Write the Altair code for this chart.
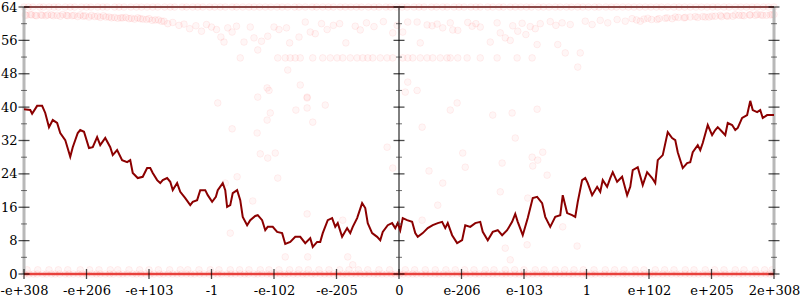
import json
import altair as alt
import pandas as pd

# ---------------- data ----------------
tick_labels = ["-e+308", "-e+206", "-e+103", "-1", "-e-102", "-e-205", "0",
               "e-206", "e-103", "1", "e+102", "e+205", "2e+308"]
tick_index = list(range(13))
y_major = [0, 8, 16, 24, 32, 40, 48, 56, 64]
y_minor = [4, 12, 20, 28, 36, 44, 52, 60]
axis_x_positions = [0, 6, 12]

line_x = [0.00, 0.10, 0.13, 0.21, 0.29, 0.34, 0.40, 0.46, 0.53, 0.58, 0.66, 0.74, 0.78, 0.86, 0.90, 0.96,
          1.04, 1.10, 1.17, 1.22, 1.30, 1.38, 1.42, 1.49, 1.57, 1.65, 1.70, 1.74, 1.82, 1.90, 1.97,
          2.02, 2.06, 2.13, 2.18, 2.22, 2.29, 2.34, 2.38, 2.45, 2.50, 2.58, 2.66, 2.70, 2.77, 2.82,
          2.90, 2.94, 3.01, 3.07, 3.10, 3.18, 3.22, 3.25, 3.30, 3.34, 3.41, 3.46, 3.50, 3.57, 3.62,
          3.70, 3.74, 3.81, 3.86, 3.90, 3.98, 4.05, 4.13, 4.18, 4.26, 4.34, 4.42, 4.50, 4.58, 4.62,
          4.69, 4.74, 4.78, 4.86, 4.93, 4.98, 5.02, 5.09, 5.17, 5.22, 5.26, 5.33, 5.41, 5.46, 5.50,
          5.57, 5.65, 5.70, 5.74, 5.82, 5.89, 5.94, 5.98, 6.02, 6.06, 6.13, 6.21, 6.26, 6.30, 6.38,
          6.46, 6.54, 6.62, 6.69, 6.74, 6.78, 6.85, 6.93, 7.01, 7.06, 7.14, 7.22, 7.30, 7.34, 7.42,
          7.50, 7.58, 7.65, 7.73, 7.81, 7.86, 7.90, 7.98, 8.06, 8.14, 8.21, 8.29, 8.34, 8.42, 8.50,
          8.58, 8.62, 8.69, 8.77, 8.82, 8.86, 8.93, 8.98, 9.02, 9.09, 9.17, 9.22, 9.26, 9.33, 9.38,
          9.42, 9.49, 9.57, 9.65, 9.70, 9.74, 9.82, 9.90, 9.97, 10.05, 10.10, 10.14, 10.22, 10.30,
          10.37, 10.42, 10.46, 10.54, 10.61, 10.66, 10.70, 10.78, 10.82, 10.86, 10.94, 11.01, 11.06,
          11.10, 11.17, 11.22, 11.26, 11.33, 11.38, 11.42, 11.49, 11.57, 11.62, 11.66, 11.73, 11.78,
          11.82, 11.89, 11.98, 12.00]
line_y = [39.5, 39.3, 38.4, 40.3, 40.3, 38.6, 35.2, 36.9, 36.2, 33.8, 32.1, 28.1, 30.4, 33.8, 34.5, 34.1,
          30.2, 30.4, 32.8, 30.9, 32.6, 30.4, 28.5, 29.7, 27.3, 26.8, 27.3, 24.2, 23.0, 23.3, 25.4,
          25.4, 24.2, 22.5, 21.8, 22.5, 23.0, 22.1, 20.1, 21.8, 19.7, 18.2, 16.5, 17.3, 17.7, 20.1,
          20.1, 18.9, 17.3, 18.5, 20.1, 21.8, 20.1, 16.1, 16.5, 19.4, 20.1, 17.7, 13.7, 11.7, 12.9,
          13.9, 14.1, 12.9, 10.5, 11.3, 11.3, 10.1, 9.8, 7.2, 7.7, 8.9, 8.9, 7.4, 8.6, 6.5,
          7.7, 7.7, 9.8, 12.9, 13.4, 11.3, 12.2, 8.9, 11.0, 9.8, 11.3, 13.4, 17.0, 15.8, 12.2,
          9.8, 8.9, 8.1, 10.1, 11.7, 12.2, 11.0, 12.2, 10.5, 13.4, 12.9, 12.5, 9.8, 8.9, 9.8,
          11.0, 11.7, 12.2, 12.5, 11.0, 12.2, 9.3, 7.4, 8.1, 11.7, 11.3, 12.2, 12.5, 10.1, 8.1,
          10.1, 10.5, 9.3, 10.5, 12.5, 14.4, 12.5, 9.3, 13.4, 18.2, 18.5, 17.0, 13.7, 11.3, 13.7,
          14.1, 18.9, 14.6, 14.1, 13.7, 17.3, 22.5, 23.0, 21.8, 18.9, 20.9, 19.7, 22.5, 20.9, 23.0,
          24.4, 22.1, 23.3, 18.9, 20.9, 24.9, 25.6, 21.3, 24.4, 23.0, 21.8, 27.3, 28.5, 34.0,
          32.6, 32.1, 29.2, 25.4, 26.6, 26.8, 29.2, 30.9, 29.7, 31.4, 35.7, 33.3, 34.5,
          35.2, 34.1, 33.3, 36.2, 35.7, 34.5, 35.0, 37.4, 38.1, 41.5, 39.3, 38.8, 39.3,
          37.4, 38.1, 38.1, 38.1]

# points sitting on 0 bits of error
zero_x = [0.01, 0.08, 0.15, 0.21, 0.3, 0.36, 0.44, 0.5, 0.57, 0.66, 0.72, 0.79, 0.87, 0.93, 1.0, 1.09, 1.16,
          1.22, 1.3, 1.37, 1.43, 1.52, 1.58, 1.65, 1.74, 1.8, 1.87, 1.95, 2.02, 2.08, 2.17, 2.23, 2.31, 2.38,
          2.45, 2.52, 2.6, 2.67, 2.73, 2.81, 2.88, 2.96, 3.03, 3.1, 3.16, 3.25, 3.31, 3.38, 3.46, 3.53, 3.59,
          3.68, 3.74, 3.81, 3.89, 3.95, 4.02, 4.1, 4.17, 4.23, 4.31, 4.38, 4.46, 4.52, 4.6, 4.66, 4.74, 4.81,
          4.88, 4.95, 5.02, 5.1, 5.16, 5.24, 5.31, 5.38, 5.45, 5.52, 5.6, 5.66, 5.73, 5.8, 5.88, 5.94, 6.01,
          6.07, 6.15, 6.22, 6.28, 6.36, 6.43, 6.5, 6.58, 6.64, 6.71, 6.79, 6.85, 6.93, 7.0, 7.07, 7.14, 7.22,
          7.28, 7.36, 7.43, 7.5, 7.57, 7.65, 7.71, 7.78, 7.86, 7.92, 8.0, 8.07, 8.14, 8.21, 8.29, 8.35, 8.43,
          8.5, 8.57, 8.64, 8.72, 8.78, 8.86, 8.93, 9.0, 9.08, 9.14, 9.22, 9.29, 9.36, 9.43, 9.5, 9.58, 9.64,
          9.72, 9.79, 9.86, 9.93, 10.01, 10.07, 10.15, 10.22, 10.29, 10.36, 10.44, 10.5, 10.58, 10.65, 10.72,
          10.79, 10.86, 10.94, 11.0, 11.08, 11.15, 11.22, 11.29, 11.36, 11.44, 11.5, 11.58, 11.65, 11.72,
          11.79, 11.87, 11.93, 11.99]

# points at about 1 bit of error
one_x = [0.05, 0.22, 0.4, 0.55, 0.7, 0.9, 1.05, 1.2, 1.38, 1.5, 1.68, 1.85, 2.0, 2.15, 2.33, 2.5, 2.62, 2.8,
         2.98, 3.12, 3.3, 3.45, 3.6, 3.78, 3.92, 4.08, 4.25, 4.4, 4.55, 4.72, 4.88, 5.05, 5.2, 5.35, 5.5, 5.68,
         5.85, 6.1, 6.25, 6.42, 6.58, 6.75, 6.9, 7.05, 7.2, 7.38, 7.52, 7.7, 7.85, 8.0, 8.18, 8.32, 8.5, 8.65,
         8.8, 8.95, 9.12, 9.3, 9.45, 9.6, 9.78, 9.92, 10.1, 10.25, 10.4, 10.58, 10.72, 10.9, 11.05, 11.2, 11.38,
         11.52, 11.7, 11.85, 11.97]

# points at 64 bits of error
top_x = [0.0, 0.07, 0.14, 0.25, 0.31, 0.4, 0.48, 0.55, 0.66, 0.74, 0.81, 0.92, 1.0, 1.07, 1.18, 1.26, 1.33,
         1.45, 1.52, 1.6, 1.71, 1.8, 1.88, 1.97, 2.06, 2.14, 2.25, 2.34, 2.41, 2.53, 2.6, 2.7, 2.78, 2.86, 2.97,
         3.05, 3.14, 3.22, 3.33, 3.4, 3.5, 3.6, 3.68, 3.77, 3.86, 3.95, 4.05, 4.13, 4.22, 4.33, 4.4, 4.5, 4.61,
         4.68, 4.78, 4.87, 4.95, 5.06, 5.14, 5.23, 5.32, 5.4, 5.51, 5.6, 5.68, 5.79, 5.86, 5.96, 6.05, 6.13,
         6.24, 6.32, 6.4, 6.52, 6.6, 6.7, 6.77, 6.88, 6.96, 7.04, 7.15, 7.23, 7.3, 7.42, 7.5, 7.6, 7.67, 7.78,
         7.86, 7.95, 8.04, 8.12, 8.23, 8.31, 8.4, 8.5, 8.58, 8.68, 8.76, 8.86, 8.94, 9.03, 9.13, 9.2, 9.31, 9.4,
         9.48, 9.58, 9.67, 9.76, 9.85, 9.94, 10.03, 10.12, 10.2, 10.3, 10.4, 10.48, 10.57, 10.66, 10.75, 10.84,
         10.93, 11.02, 11.1, 11.2, 11.28, 11.38, 11.47, 11.56, 11.65, 11.73, 11.83, 11.91, 12.0]

# dense band just under 64 bits near both ends
band62_x = [0.04, 0.12, 0.2, 0.29, 0.38, 0.47, 0.58, 0.68, 0.77, 0.86, 0.95, 1.04, 1.13, 1.22, 1.31, 1.4,
            1.5, 1.58, 1.68, 1.77, 1.86, 1.96, 2.05, 2.15, 2.24,
            9.8, 9.92, 10.04, 10.16, 10.26, 10.37, 10.47, 10.56, 10.66, 10.78, 10.86, 10.96, 11.06, 11.16,
            11.24, 11.34, 11.44, 11.52, 11.61, 11.7, 11.79, 11.88, 11.97]
band62_y = [62.0, 62.1, 61.9, 62.0, 62.1, 61.9, 61.8, 62.0, 61.9, 61.7, 61.8, 61.6, 61.7, 61.5, 61.6, 61.4,
            61.3, 61.4, 61.2, 61.1, 61.2, 61.0, 60.8, 60.9, 60.6,
            60.9, 61.1, 61.0, 61.2, 61.3, 61.2, 61.5, 61.4, 61.6, 61.5, 61.7, 61.6, 61.8, 61.7,
            61.9, 61.8, 62.0, 61.9, 62.1, 62.0, 62.1, 62.0, 62.2]

# points at about 52 bits
band52_x = [3.46, 4.06, 4.18, 4.26, 4.34, 4.42, 4.62, 4.78, 4.90, 5.01, 5.10, 5.22, 5.33, 5.42, 5.50, 5.58,
            5.70, 5.81, 5.90, 6.06, 6.14, 6.22, 6.34, 6.45, 6.54, 6.66, 6.77, 6.82, 6.94, 7.09, 7.30, 7.57,
            7.89, 8.13]

# remaining scattered points (upper band near 62 bits and the sparse middle)
scatter_x = [0.02, 0.1, 0.18, 0.27, 0.35, 0.44, 0.53, 0.62, 0.7, 0.8, 0.9, 0.98, 1.08, 1.18, 1.27, 1.36, 1.45,
             1.55, 1.63, 1.72, 1.82, 1.9, 2.0, 2.1, 2.2, 2.3, 2.38, 2.48, 2.56, 2.65, 2.75, 2.84, 2.92, 3.0,
             3.08, 3.15, 3.2, 3.26, 3.33, 3.4, 3.52, 3.62, 3.68, 3.74, 3.8, 3.9, 4.0, 4.08, 4.2, 4.25, 4.4,
             4.5, 4.58, 4.66, 4.76, 4.85, 4.95, 5.05, 5.15, 5.3, 5.38, 5.48, 5.6, 5.75, 5.9, 5.97,
             6.06, 6.14, 6.29, 6.34, 6.45, 6.53, 6.61, 6.70, 6.82, 6.86, 6.94, 7.10, 7.17, 7.23, 7.30, 7.46,
             7.57, 7.62, 7.70, 7.78, 7.82, 7.90, 7.97, 8.03, 8.10, 8.18, 8.21, 8.26, 8.42, 8.51, 8.54, 8.61,
             8.66, 8.74, 8.86, 8.90, 8.98, 9.09, 9.22, 9.34, 9.49, 9.62, 9.73, 9.86, 9.98, 10.13, 10.29, 10.42,
             10.58, 10.74, 10.90, 11.01, 11.14, 11.26, 11.38, 11.49, 11.62, 11.73, 11.82, 11.94, 12.0,
             3.10, 3.74, 3.92, 4.53, 4.82, 4.35, 4.53, 3.94, 3.89, 4.62, 3.33, 3.73, 5.81, 3.78, 4.02, 3.90,
             5.90, 3.41, 4.06, 3.22, 3.66, 4.53, 5.10, 3.30, 4.18, 4.54, 5.18, 5.26, 3.89, 4.42, 4.22, 4.53,
             6.29, 6.93, 6.82, 7.50, 7.81, 8.21, 6.37, 7.86, 7.02, 8.30, 8.13, 8.22, 7.65, 7.06, 8.14, 6.48,
             8.37, 6.70, 7.62, 6.62, 8.06, 6.37, 8.62, 7.70, 8.05, 8.85, 7.78, 6.10, 6.14]
scatter_y = [62.1, 62.2, 62.0, 62.1, 61.9, 62.1, 62.0, 62.2, 61.9, 62.0, 62.1, 61.9, 62.0, 61.8, 61.9, 61.6, 61.5,
             61.4, 61.5, 61.3, 61.4, 61.1, 61.2, 60.9, 60.6, 60.0, 60.3, 59.6, 59.9, 58.8, 59.5, 58.2, 59.8, 59.2,
             58.6, 56.8, 55.6, 59.0, 58.0, 59.4, 55.6, 59.2, 56.6, 53.7, 55.8, 57.0, 59.2, 58.6, 59.0, 55.4, 56.8,
             60.4, 58.0, 57.6, 60.0, 58.6, 59.6, 60.0, 55.4, 59.4, 58.5, 60.2, 59.3, 60.5, 57.8, 59.6,
             58.0, 60.4, 60.4, 55.4, 59.7, 59.5, 59.9, 59.0, 60.2, 58.5, 58.4, 60.3, 59.4, 60.0, 59.2, 55.6,
             60.2, 57.8, 56.6, 56.0, 59.5, 58.2, 60.1, 57.4, 59.3, 58.8, 55.0, 60.0, 60.5, 59.6, 55.0, 60.2,
             53.0, 59.8, 49.6, 53.0, 60.6, 59.8, 60.8, 60.2, 61.0, 60.6, 61.2, 60.6, 61.3, 61.0, 61.4, 61.6,
             61.5, 61.7, 61.6, 61.8, 62.0, 61.8, 62.1, 62.0, 62.1, 62.2, 62.0, 62.1, 62.2,
             41.0, 42.4, 44.0, 42.4, 40.5, 39.3, 39.8, 38.6, 36.9, 36.4, 34.8, 33.8, 30.4, 28.8, 29.0, 27.8,
             25.4, 23.3, 23.0, 21.8, 17.5, 14.4, 12.9, 9.8, 4.1, 4.1, 4.1, 2.2, 44.6, 45.3, 48.9, 42.2,
             44.0, 41.0, 39.3, 38.1, 38.6, 39.5, 35.2, 32.6, 29.0, 29.2, 28.0, 27.3, 26.6, 25.6, 25.9, 24.7,
             23.7, 21.8, 19.7, 16.5, 18.2, 12.9, 11.3, 6.2, 7.0, 6.7, 3.4, 43.6, 46.0]

# ---------------- tables ----------------
pts = pd.DataFrame({
    "x": zero_x + one_x + top_x + band62_x + band52_x + scatter_x,
    "y": [0.0] * len(zero_x) + [1.0] * len(one_x) + [64.0] * len(top_x) + band62_y
         + [51.8] * len(band52_x) + scatter_y,
})
line_df = pd.DataFrame({"x": line_x, "y": line_y})
major_df = pd.DataFrame([(a, v) for a in axis_x_positions for v in y_major], columns=["x", "y"])
minor_df = pd.DataFrame([(a, v) for a in axis_x_positions for v in y_minor], columns=["x", "y"])
xtick_df = pd.DataFrame({"x": tick_index, "y": [0] * len(tick_index)})
side_df = pd.DataFrame({"x": [0, 12]})
mid_df = pd.DataFrame({"x": [6]})
bottom_df = pd.DataFrame({"y": [0]})
top_df = pd.DataFrame({"y": [64]})

FONT = "DejaVu Serif"
xscale = alt.Scale(domain=[0, 12], nice=False, zero=False)
yscale = alt.Scale(domain=[0, 64], nice=False, zero=False)

label_expr = json.dumps(tick_labels) + "[datum.value]"
x_axis = alt.Axis(values=tick_index, labelExpr=label_expr, ticks=False, domain=False, grid=False,
                  labelFont=FONT, labelFontSize=13, labelColor="#000", labelPadding=10,
                  labelOverlap=False, labelBound=False, labelFlush=False, title=None)
y_axis = alt.Axis(values=y_major, ticks=False, domain=False, grid=False,
                  labelFont=FONT, labelFontSize=13, labelColor="#000", labelPadding=7,
                  labelOverlap=False, labelBound=False, labelFlush=False, title=None)

# every layer carries the identical axis definition so the merged axis keeps it
XA = alt.X("x:Q", scale=xscale, axis=x_axis)
YA = alt.Y("y:Q", scale=yscale, axis=y_axis)

side_lines = alt.Chart(side_df).mark_rule(color="#b8b8b8", strokeWidth=3).encode(x=XA)
mid_line = alt.Chart(mid_df).mark_rule(color="#000", strokeWidth=1).encode(x=XA)
bottom_line = alt.Chart(bottom_df).mark_rule(color="#e8413c", strokeWidth=2.5).encode(y=YA)
top_line = alt.Chart(top_df).mark_rule(color="#8c4848", strokeWidth=2).encode(y=YA)

points = alt.Chart(pts).mark_point(shape="circle", size=45, filled=True, fill="#ff0000",
                                   fillOpacity=0.035, stroke="#ff0000", strokeOpacity=0.06,
                                   strokeWidth=1).encode(x=XA, y=YA)
line = alt.Chart(line_df).mark_line(color="#8b0000", strokeWidth=2).encode(x=XA, y=YA)

major_ticks = alt.Chart(major_df).mark_tick(orient="horizontal", size=11, thickness=1.3,
                                            color="#000").encode(x=XA, y=YA)
minor_ticks = alt.Chart(minor_df).mark_tick(orient="horizontal", size=6, thickness=1,
                                            color="#333").encode(x=XA, y=YA)
x_ticks = alt.Chart(xtick_df).mark_tick(orient="vertical", size=10, thickness=1.3,
                                        color="#000").encode(x=XA, y=YA)

chart = alt.layer(
    points, side_lines, mid_line, bottom_line, top_line, line, major_ticks, minor_ticks, x_ticks
).properties(
    width=750, height=267,
    padding={"left": 24, "top": 7, "right": 26, "bottom": 26},
    autosize=alt.AutoSizeParams(type="none"),
    background="white",
).configure_view(stroke=None)

chart.save("out.html", embed_options={"renderer": "svg", "actions": False})
